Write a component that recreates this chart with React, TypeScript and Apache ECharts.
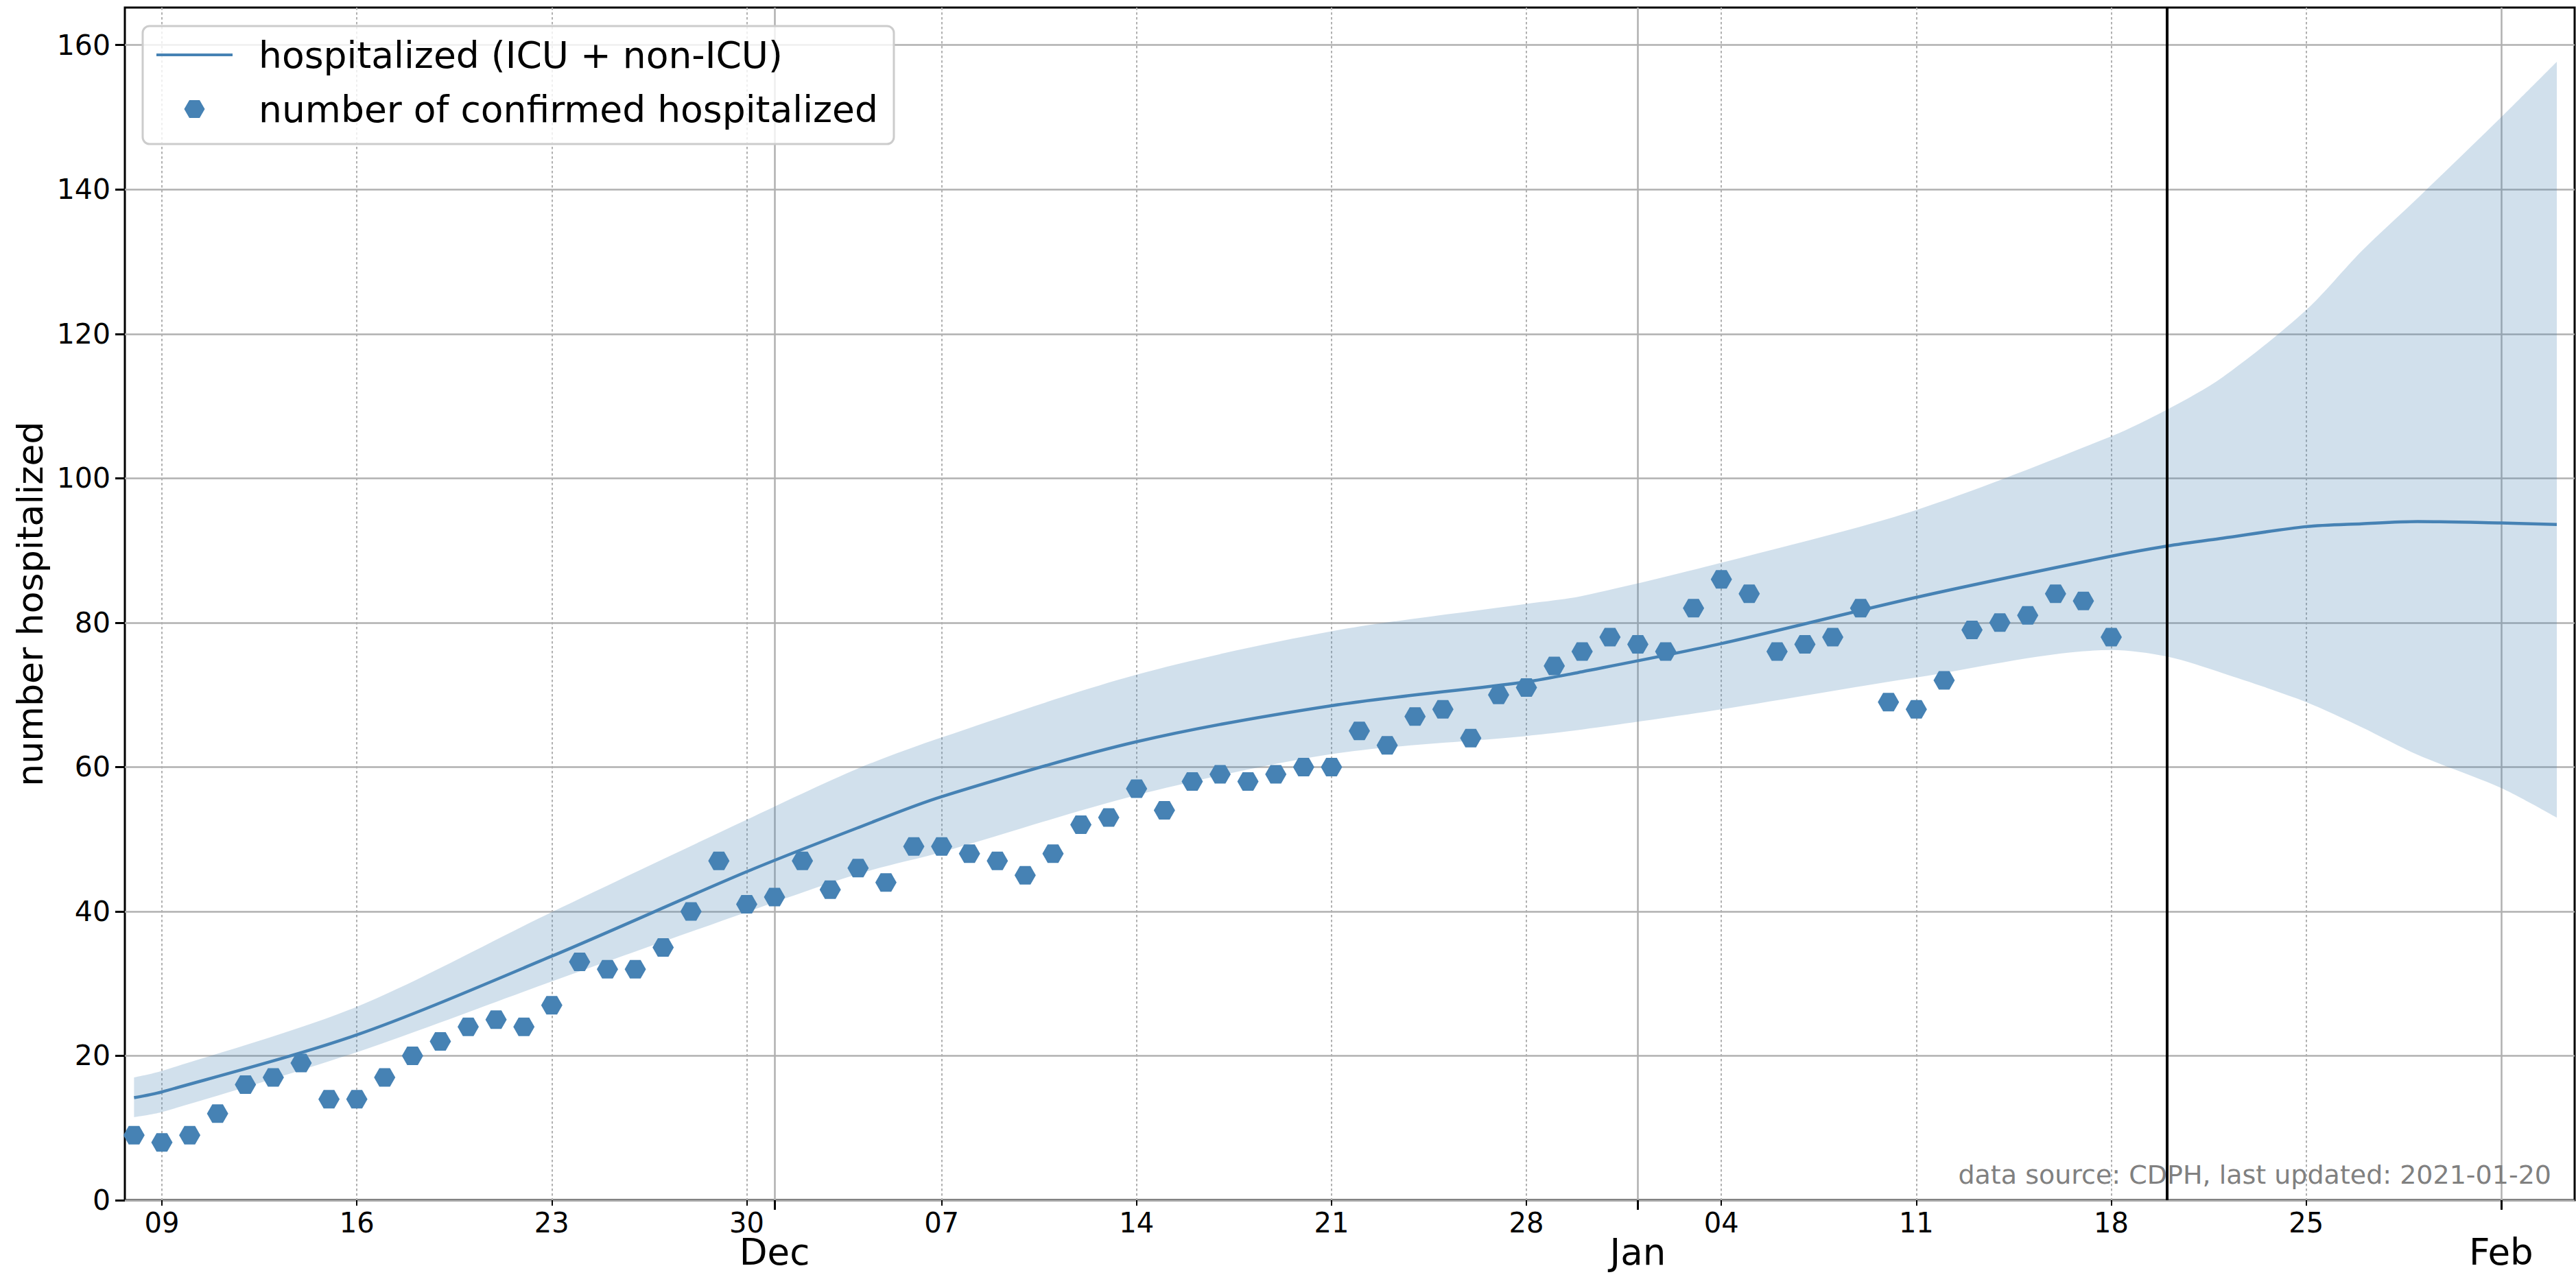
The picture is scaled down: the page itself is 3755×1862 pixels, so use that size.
import React, { useEffect, useRef } from "react";
import * as echarts from "echarts";

const DAY = 86400000;
const utc = (s: string) => {
  const [y, m, d] = s.split("-").map(Number);
  return Date.UTC(y, m - 1, d);
};

// observed daily counts, starting 2020-11-08
const obsStart = "2020-11-08";
const confirmedHospitalized = [
  9, 8, 9, 12, 16, 17, 19, 14, 14, 17, 20, 22, 24, 25, 24, 27, 33, 32, 32, 35, 40, 47, 41,
  42, 47, 43, 46, 44, 49, 49, 48, 47, 45, 48, 52, 53, 57, 54, 58, 59, 58, 59, 60, 60, 65, 63, 67, 68, 64, 70, 71, 74, 76, 78,
  77, 76, 82, 86, 84, 76, 77, 78, 82, 69, 68, 72, 79, 80, 81, 84, 83, 78,
];

// model curve and uncertainty band
const modelDates = [
  "2020-11-08", "2020-11-09", "2020-11-16", "2020-11-23", "2020-11-30", "2020-12-04", "2020-12-07",
  "2020-12-14", "2020-12-21", "2020-12-28", "2020-12-30", "2021-01-04", "2021-01-11", "2021-01-18",
  "2021-01-20", "2021-01-22", "2021-01-25", "2021-01-27", "2021-01-29", "2021-02-01", "2021-02-03",
];
const hospitalizedModel = [
  14.2, 15.0, 22.9, 33.8, 45.5, 51.6, 55.9, 63.5, 68.5, 71.8, 73.2, 77.1, 83.5, 89.2, 90.6, 91.7, 93.3, 93.7, 94.0, 93.8, 93.6,
];
const bandUpper = [
  17.0, 17.9, 26.8, 39.9, 52.7, 59.8, 64.1, 72.8, 78.8, 82.6, 83.7, 88.3, 95.6, 105.8, 109.5, 114, 123.3, 131.5, 138.8, 150, 157.7,
];
const bandLower = [
  11.5, 12.2, 20.5, 30.3, 39.9, 45.2, 48.2, 56.1, 61.8, 64.3, 65.2, 68.0, 72.4, 76.2, 75.3, 73, 69, 65.5, 61.7, 57.1, 53,
];

// axis ticks
const weekTicks = [
  "2020-11-09", "2020-11-16", "2020-11-23", "2020-11-30", "2020-12-07", "2020-12-14", "2020-12-21",
  "2020-12-28", "2021-01-04", "2021-01-11", "2021-01-18", "2021-01-25",
];
const monthTicks = ["2020-12-01", "2021-01-01", "2021-02-01"];
const monthLabels = ["Dec", "Jan", "Feb"];
const yTicks = [0, 20, 40, 60, 80, 100, 120, 140, 160];
const lastUpdated = "2021-01-20";

const FONT = "DejaVu Sans";
const BLUE = "#4682b4";
const HEX = "path://M-1,0 L-0.5,-0.866 L0.5,-0.866 L1,0 L0.5,0.866 L-0.5,0.866 Z";
const LINE_ICON = "path://M0,0 L111,0 L111,4 L0,4 Z";

export default function App() {
  const ref = useRef<HTMLDivElement>(null);
  useEffect(() => {
    if (!ref.current) return;
    const chart = echarts.init(ref.current, undefined, { renderer: "svg" });
    const xMin = utc("2020-11-07") + 0.67 * DAY;
    const xMax = utc("2021-02-03") + 0.64 * DAY;
    const s0 = utc(obsStart);
    const obs = confirmedHospitalized.map((v, i) => [s0 + i * DAY, v]);
    const md = modelDates.map(utc);
    const line = md.map((t, i) => [t, hospitalizedModel[i]]);
    const lower = md.map((t, i) => [t, bandLower[i]]);
    const diff = md.map((t, i) => [t, bandUpper[i] - bandLower[i]]);
    const monthVals = monthTicks.map(utc);
    const weekVals = weekTicks.map(utc);

    const tickAxisBase = {
      min: xMin,
      max: xMax,
      gridIndex: 0,
      position: "bottom",
      axisLine: { show: false },
    };

    chart.setOption({
      animation: false,
      backgroundColor: "#ffffff",
      grid: {
        left: 182,
        top: 11,
        width: 3571,
        height: 1739,
        show: true,
        borderColor: "#000000",
        borderWidth: 3,
        backgroundColor: "transparent",
      },
      legend: {
        orient: "vertical",
        left: 208,
        top: 38,
        padding: [12, 23, 21, 20],
        itemGap: 19,
        itemWidth: 111,
        itemHeight: 26,
        backgroundColor: "rgba(255,255,255,0.8)",
        borderColor: "#cccccc",
        borderWidth: 3,
        borderRadius: 10,
        textStyle: { fontFamily: FONT, fontSize: 53.5, color: "#000", lineHeight: 60, padding: [0, 0, 0, 33] },
        data: [
          { name: "hospitalized (ICU + non-ICU)", icon: LINE_ICON, itemStyle: { color: BLUE, opacity: 1 } },
          { name: "number of confirmed hospitalized", icon: HEX, itemStyle: { color: BLUE, opacity: 1 } },
        ],
      },
      xAxis: [
        {
          type: "time",
          min: xMin,
          max: xMax,
          show: false,
        },
        {
          ...tickAxisBase,
          type: "value",
          axisTick: { show: true, customValues: weekVals, length: 8, lineStyle: { color: "#000", width: 2 } },
          axisLabel: {
            customValues: weekVals,
            margin: 16,
            fontFamily: FONT,
            fontSize: 40,
            lineHeight: 34,
            color: "#000",
            formatter: (v: number) => String(new Date(v).getUTCDate()).padStart(2, "0"),
          },
          splitLine: { show: true, lineStyle: { color: "#b0b0b0", width: 2, type: [3.5, 3.5] } },
        },
        {
          ...tickAxisBase,
          type: "value",
          axisTick: { show: true, customValues: monthVals, length: 14, lineStyle: { color: "#000", width: 3 } },
          axisLabel: {
            customValues: monthVals,
            margin: 53,
            fontFamily: FONT,
            fontSize: 53,
            lineHeight: 44,
            color: "#000",
            formatter: (v: number) => monthLabels[monthVals.indexOf(v)] ?? "",
          },
          splitLine: { show: true, lineStyle: { color: "#b0b0b0", width: 2.5, type: "solid" } },
        },
      ],
      yAxis: {
        type: "value",
        min: 0,
        max: 165.2,
        name: "number hospitalized",
        nameLocation: "middle",
        nameGap: 112,
        nameTextStyle: { fontFamily: FONT, fontSize: 52, color: "#000" },
        axisLine: { show: false },
        axisTick: { show: true, customValues: yTicks, length: 14, lineStyle: { color: "#000", width: 3 } },
        axisLabel: { customValues: yTicks, margin: 21, fontFamily: FONT, fontSize: 41, color: "#000" },
        splitLine: { show: true, lineStyle: { color: "#b0b0b0", width: 2.5 } },
      },
      series: [
        {
          name: "band-lower",
          type: "line",
          data: lower,
          stack: "band",
          symbol: "none",
          smooth: 0.3,
          lineStyle: { width: 0, opacity: 0 },
          silent: true,
          z: 1,
        },
        {
          name: "band-range",
          type: "line",
          data: diff,
          stack: "band",
          symbol: "none",
          smooth: 0.3,
          lineStyle: { width: 0, opacity: 0 },
          areaStyle: { color: "rgba(70,130,180,0.25)", opacity: 1 },
          silent: true,
          z: 1,
        },
        {
          name: "hospitalized (ICU + non-ICU)",
          type: "line",
          data: line,
          symbol: "none",
          smooth: 0.3,
          color: BLUE,
          lineStyle: { color: BLUE, width: 4.5 },
          z: 3,
        },
        {
          name: "number of confirmed hospitalized",
          type: "scatter",
          data: obs,
          symbol: HEX,
          symbolSize: [31, 27],
          itemStyle: { color: BLUE, borderWidth: 0, opacity: 1 },
          z: 4,
          markLine: {
            silent: true,
            symbol: "none",
            label: { show: false },
            lineStyle: { color: "#000", width: 4, type: "solid" },
            data: [{ xAxis: utc(lastUpdated) }],
          },
        },
      ],
      graphic: [
        {
          type: "text",
          right: 36,
          top: 1694,
          style: {
            text: `data source: CDPH, last updated: ${lastUpdated}`,
            fontFamily: FONT,
            fontSize: 38,
            fill: "#808080",
          },
          z: 10,
        },
      ],
    });
    return () => chart.dispose();
  }, []);
  return (
    <div
      ref={ref}
      style={{ position: "fixed", left: 0, top: 0, width: "3755px", height: "1862px", background: "#fff" }}
    />
  );
}
